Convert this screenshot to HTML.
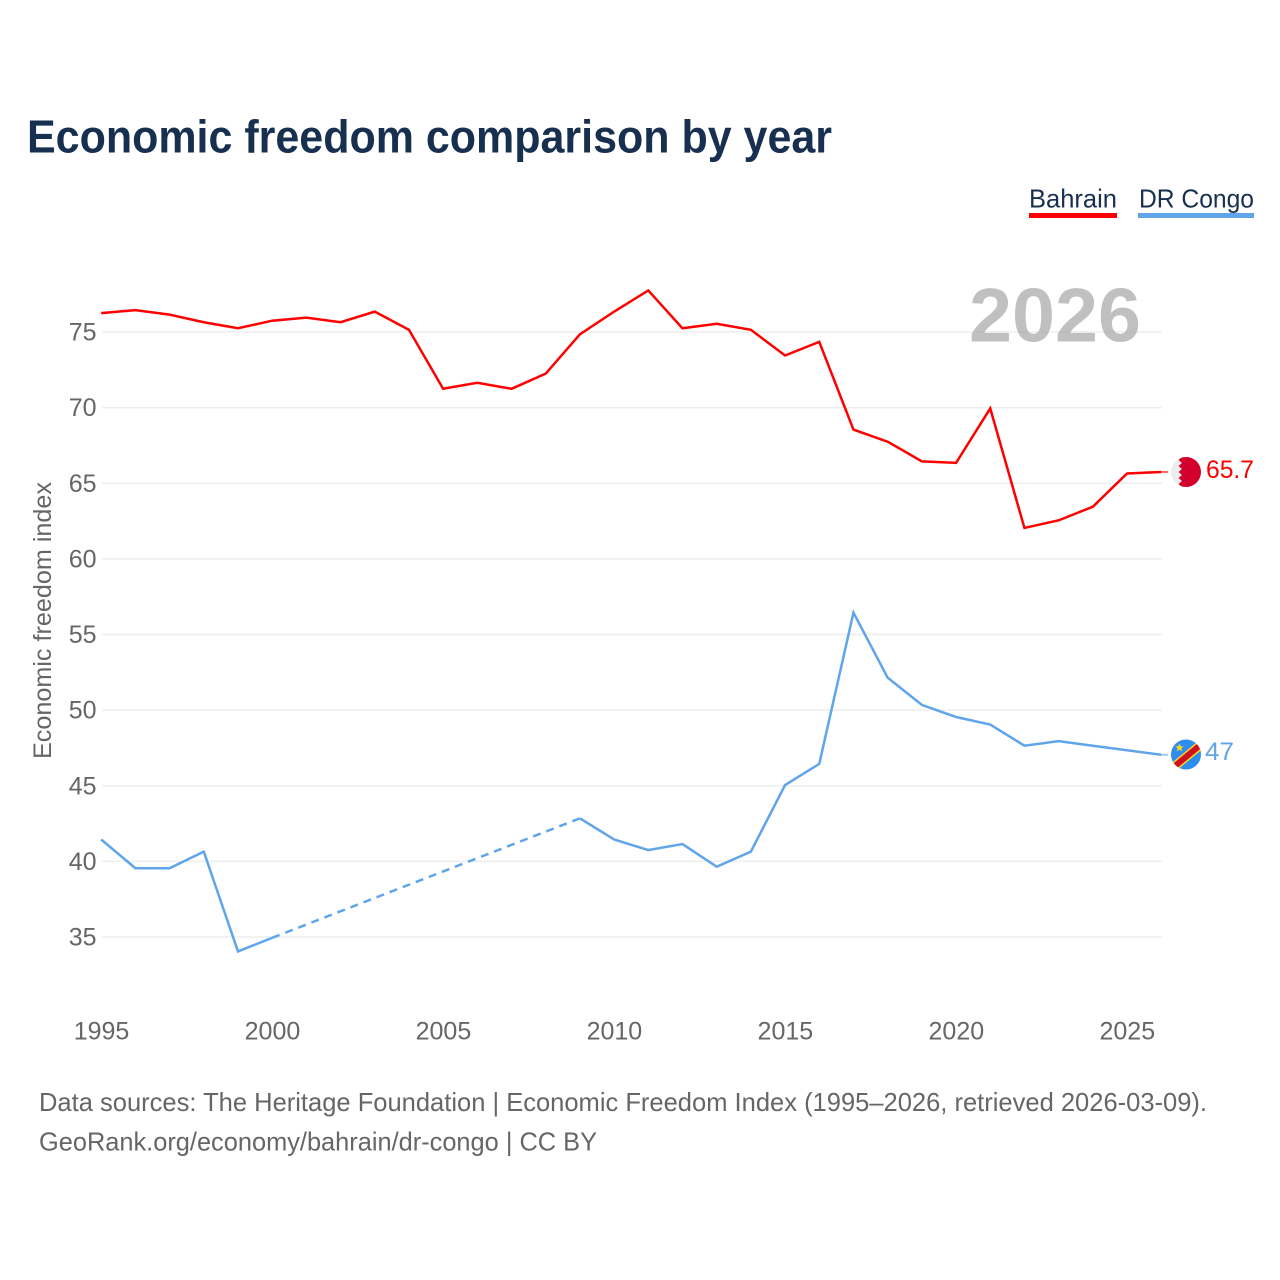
<!DOCTYPE html>
<html lang="en">
<head>
<meta charset="utf-8">
<title>Economic freedom comparison by year</title>
<style>
html,body{margin:0;padding:0;background:#fff;width:1280px;height:1280px;overflow:hidden}
svg{display:block}
text{font-family:"Liberation Sans",sans-serif}
</style>
</head>
<body>
<svg id="chart" xmlns="http://www.w3.org/2000/svg" width="1280" height="1280" viewBox="0 0 1280 1280">
  <rect x="0" y="0" width="1280" height="1280" fill="#fff"/>
  <text x="27" y="152.5" font-size="46" font-weight="700" fill="#18304f" textLength="805" lengthAdjust="spacingAndGlyphs">Economic freedom comparison by year</text>

  <g>
    <g>
      <text x="1029" y="207.5" font-size="26" fill="#18304f" textLength="88" lengthAdjust="spacingAndGlyphs">Bahrain</text>
      <rect x="1029" y="213" width="88" height="5" fill="#ff0000"/>
    </g>
    <g>
      <text x="1139" y="207.5" font-size="26" fill="#18304f" textLength="115" lengthAdjust="spacingAndGlyphs">DR Congo</text>
      <rect x="1138" y="213" width="116" height="5" fill="#60a5ea"/>
    </g>
  </g>

  <g id="grid"></g>
  <g id="yticks"></g>
  <g id="xticks"></g>

  <text transform="translate(51 759) rotate(-90)" x="0" y="0" font-size="25" fill="#666" textLength="277" lengthAdjust="spacingAndGlyphs">Economic freedom index</text>

  <text x="969" y="341.5" font-size="76" font-weight="700" fill="#999" fill-opacity="0.62" textLength="172" lengthAdjust="spacingAndGlyphs">2026</text>

  <g id="series" transform="translate(-0.8 -0.7)"></g>

  <defs>
    <clipPath id="clip-bh"><circle cx="1186" cy="472" r="15"/></clipPath>
    <clipPath id="clip-cd"><circle cx="1186" cy="754.5" r="15"/></clipPath>
  </defs>

  <g clip-path="url(#clip-bh)">
    <rect x="1171" y="457" width="30" height="30" fill="#eeeeee"/>
    <polygon points="1182,457 1201,457 1201,487 1182,487 1178.5,484 1182,481 1178.5,478 1182,475 1178.5,472 1182,469 1178.5,466 1182,463 1178.5,460" fill="#d2002b"/>
  </g>
  <g clip-path="url(#clip-cd)">
    <rect x="1171" y="739.5" width="30" height="30" fill="#2f8cf0"/>
    <line x1="1166" y1="773.4" x2="1207" y2="739.6" stroke="#f7d618" stroke-width="9"/>
    <line x1="1166" y1="773.4" x2="1207" y2="739.6" stroke="#ce1021" stroke-width="6"/>
    <polygon points="1179.5,743.5 1180.7,746.3 1183.7,746.5 1181.4,748.4 1182.1,751.4 1179.5,749.8 1176.9,751.4 1177.6,748.4 1175.3,746.5 1178.3,746.3" fill="#f7d618"/>
  </g>

  <text id="label-bh" x="1206" y="478" font-size="25" fill="#ff0000" textLength="48" lengthAdjust="spacingAndGlyphs"></text>
  <text id="label-cd" x="1205" y="760" font-size="25" fill="#60a5ea" textLength="29" lengthAdjust="spacingAndGlyphs"></text>

  <g>
    <text x="39" y="1111" font-size="26" fill="#666" textLength="1168" lengthAdjust="spacingAndGlyphs">Data sources: The Heritage Foundation | Economic Freedom Index (1995–2026, retrieved 2026-03-09).</text>
    <text x="39" y="1150.5" font-size="26" fill="#666" textLength="558" lengthAdjust="spacingAndGlyphs">GeoRank.org/economy/bahrain/dr-congo | CC BY</text>
  </g>
</svg>
<script>
const years = [1995,1996,1997,1998,1999,2000,2001,2002,2003,2004,2005,2006,2007,2008,2009,2010,2011,2012,2013,2014,2015,2016,2017,2018,2019,2020,2021,2022,2023,2024,2025,2026];
const bahrainValues = [76.2,76.4,76.1,75.6,75.2,75.7,75.9,75.6,76.3,75.1,71.2,71.6,71.2,72.2,74.8,76.3,77.7,75.2,75.5,75.1,73.4,74.3,68.5,67.7,66.4,66.3,69.9,62.0,62.5,63.4,65.6,65.7];
const congoValues = [41.4,39.5,39.5,40.6,34.0,34.9,null,null,null,null,null,null,null,null,42.8,41.4,40.7,41.1,39.6,40.6,45.0,46.4,56.4,52.1,50.3,49.5,49.0,47.6,47.9,47.6,47.3,47.0];
const yTickLabels = [35,40,45,50,55,60,65,70,75];
const xTickLabels = [1995,2000,2005,2010,2015,2020,2025];

const NS = 'http://www.w3.org/2000/svg';
const xScale = function (year) { return 102 + (year - 1995) * (1162 - 102) / 31; };
const yScale = function (value) { return 937 + (35 - value) * (937 - 332) / 40; };
const lastOf = function (list) { return list[list.length - 1]; };

const gridLayer = document.getElementById('grid');
const yLayer = document.getElementById('yticks');
const xLayer = document.getElementById('xticks');
const seriesLayer = document.getElementById('series');

yTickLabels.forEach(function (tick) {
  const line = document.createElementNS(NS, 'line');
  
  
  line.setAttribute('x1', 102);
  line.setAttribute('x2', 1162);
  line.setAttribute('y1', yScale(tick));
  line.setAttribute('y2', yScale(tick));
  line.setAttribute('stroke', '#eeeeee');
  line.setAttribute('stroke-width', '1.6');
  gridLayer.appendChild(line);

  const label = document.createElementNS(NS, 'text');
  
  
  label.setAttribute('x', 96.5);
  label.setAttribute('y', yScale(tick) + 8.5);
  label.setAttribute('text-anchor', 'end');
  label.setAttribute('font-size', '25');
  label.setAttribute('fill', '#666');
  label.textContent = tick;
  yLayer.appendChild(label);
});

xTickLabels.forEach(function (tick) {
  const label = document.createElementNS(NS, 'text');
  
  
  label.setAttribute('x', xScale(tick) - 0.5);
  label.setAttribute('y', 1039.5);
  label.setAttribute('text-anchor', 'middle');
  label.setAttribute('font-size', '25');
  label.setAttribute('fill', '#666');
  label.textContent = tick;
  xLayer.appendChild(label);
});

function drawSeries(name, values, color) {
  let solidPath = '';
  let dashedPath = '';
  let previous = -1;
  values.forEach(function (value, index) {
    if (value === null) { return; }
    const x = xScale(years[index]).toFixed(2);
    const y = yScale(value).toFixed(2);
    if (previous < 0) {
      solidPath += 'M' + x + ' ' + y;
    } else if (index - previous === 1) {
      solidPath += 'L' + x + ' ' + y;
    } else {
      dashedPath += 'M' + xScale(years[previous]).toFixed(2) + ' ' + yScale(values[previous]).toFixed(2) + 'L' + x + ' ' + y;
      solidPath += 'M' + x + ' ' + y;
    }
    previous = index;
  });

  const solid = document.createElementNS(NS, 'path');
  
  
  solid.setAttribute('d', solidPath);
  solid.setAttribute('fill', 'none');
  solid.setAttribute('stroke', color);
  solid.setAttribute('stroke-width', '2.5');
  solid.setAttribute('stroke-linejoin', 'miter');
  seriesLayer.appendChild(solid);

  if (dashedPath) {
    const dashed = document.createElementNS(NS, 'path');
    
    
    dashed.setAttribute('d', dashedPath);
    dashed.setAttribute('fill', 'none');
    dashed.setAttribute('stroke', color);
    dashed.setAttribute('stroke-width', '2.5');
    dashed.setAttribute('stroke-dasharray', '8 6');
    seriesLayer.appendChild(dashed);
  }

  const connector = document.createElementNS(NS, 'line');
  
  
  connector.setAttribute('x1', xScale(lastOf(years)));
  connector.setAttribute('x2', xScale(lastOf(years)) + 7);
  connector.setAttribute('y1', yScale(lastOf(values)));
  connector.setAttribute('y2', yScale(lastOf(values)));
  connector.setAttribute('stroke', color);
  connector.setAttribute('stroke-width', '2');
  connector.setAttribute('stroke-opacity', '0.6');
  seriesLayer.appendChild(connector);
}

drawSeries('bahrain', bahrainValues, '#ff0000');
drawSeries('dr-congo', congoValues, '#60a5ea');

document.getElementById('label-bh').textContent = lastOf(bahrainValues);
document.getElementById('label-cd').textContent = lastOf(congoValues);
</script>
</body>
</html>
